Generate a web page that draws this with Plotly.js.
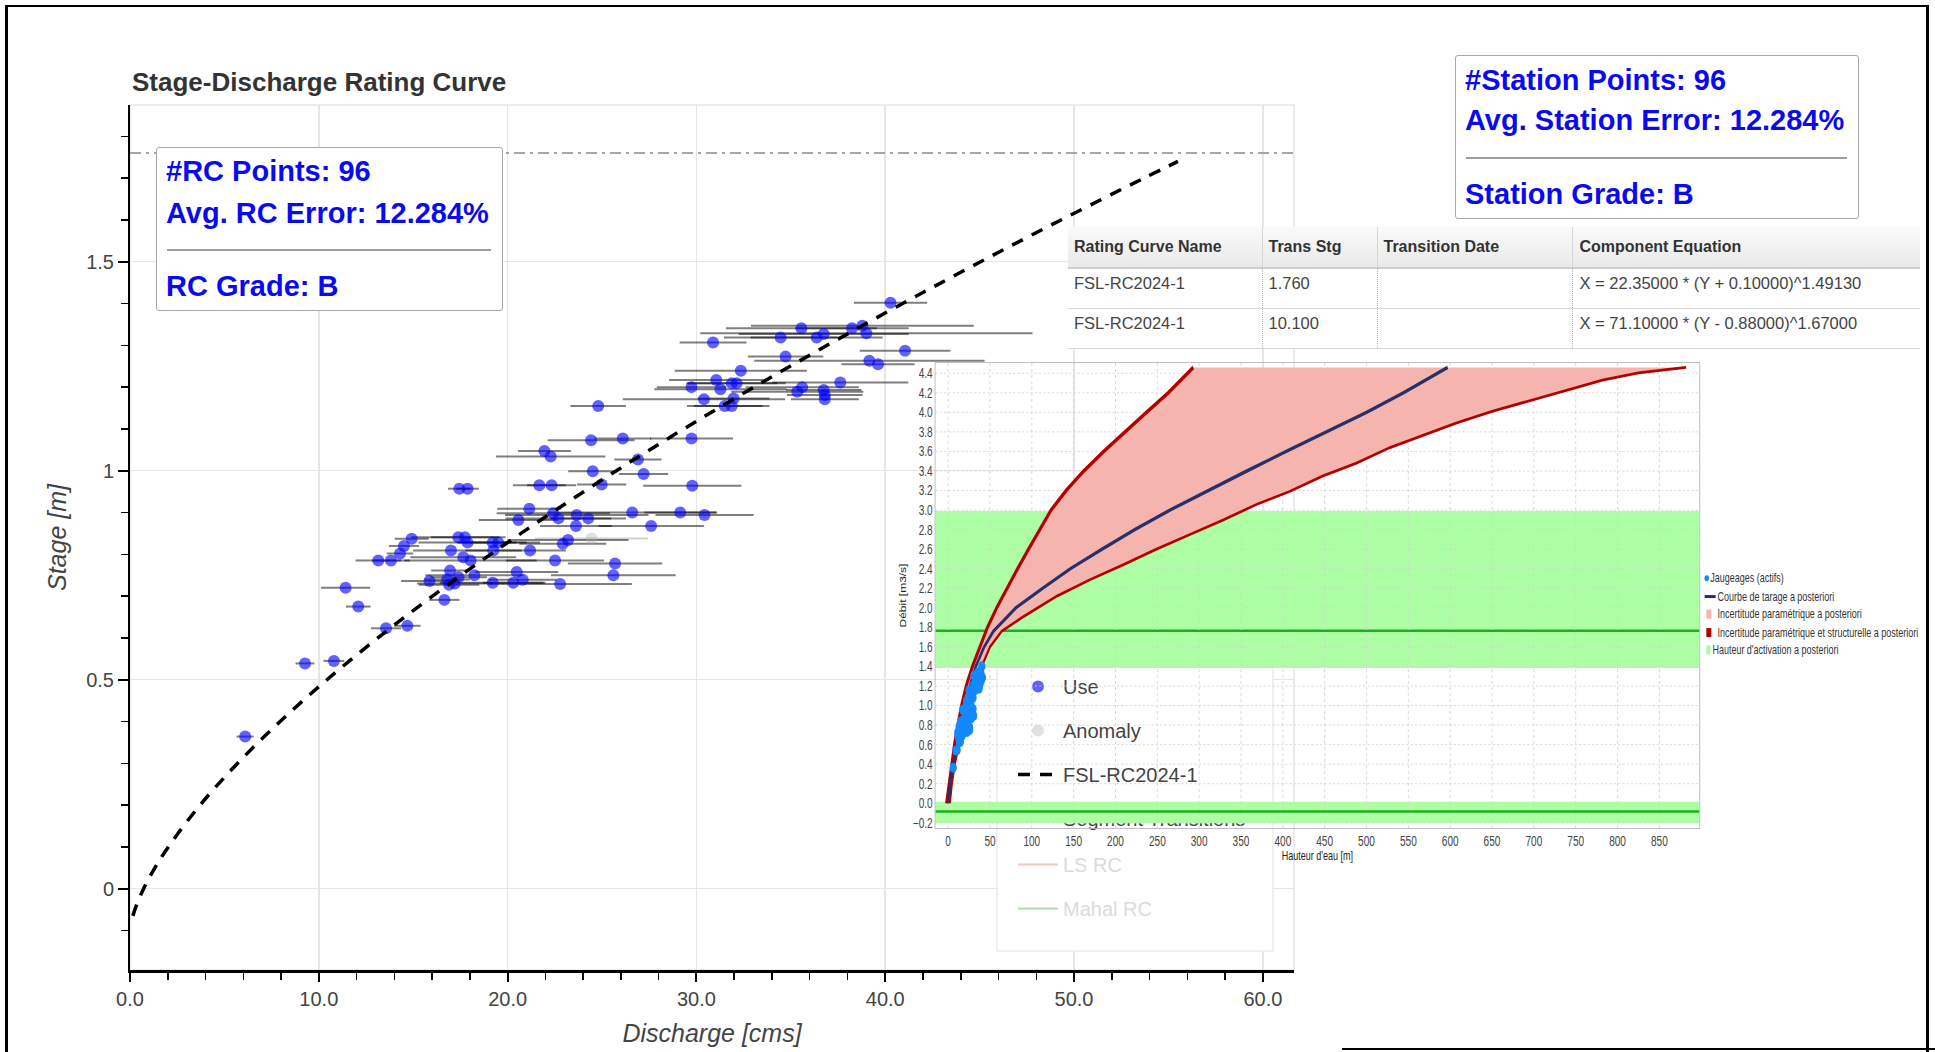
<!DOCTYPE html>
<html>
<head>
<meta charset="utf-8">
<script src="https://cdn.plot.ly/plotly-3.0.1.min.js"></script>
<style>
  html, body { margin: 0; padding: 0; background: #fff; }
  #page { position: relative; width: 1935px; height: 1052px; overflow: hidden; background: #fff;
          font-family: "Liberation Sans", Arial, Helvetica, sans-serif; }
  #main { position: absolute; left: 0; top: 0; width: 1935px; height: 1052px; z-index: 1; }
  #inset { position: absolute; left: 880px; top: 0; width: 1466px; height: 1052px; z-index: 3;
           transform-origin: 0 0; }
  .statbox { position: absolute; background: #fff; border: 1.5px solid #a8a8a8; border-radius: 3px;
             box-sizing: border-box; z-index: 2; }
  .statline { position: absolute; left: 9px; font-weight: bold; color: #0a0af0; font-size: 29px;
              line-height: 34px; white-space: nowrap; }
  .sep { position: absolute; left: 10px; right: 11px; height: 0; border-top: 2px solid #9c9c9c; }
  #tblwrap { position: absolute; left: 1068px; top: 227px; width: 852px; background: #fff; z-index: 2; }
  #tbl { border-collapse: collapse; width: 852px; table-layout: fixed; font-size: 16.5px; color: #444; }
  #tbl th { height: 40px; text-align: left; font-weight: bold; font-size: 16px; color: #333;
            background: linear-gradient(#fafafa, #e9e9e9); border-bottom: 2px solid #cfcfcf;
            border-right: 1px solid #d6d6d6; padding: 0 0 0 6px; white-space: nowrap; }
  #tbl td { height: 29px; padding: 0 0 10px 6px; border-bottom: 1.5px solid #d8d8d8;
            border-right: 1px dotted #b5b5b5; white-space: nowrap; background: #fff; }
  #tbl th:last-child, #tbl td:last-child { border-right: none; padding-left: 7px; }
  .frame { position: absolute; background: #000; z-index: 10; }
</style>
</head>
<body>
<div id="page">
  <div id="main"></div>

  <div class="statbox" id="rcbox" style="left:156px; top:147px; width:347px; height:164px;"></div>
  <div id="tblwrap"></div>

  <div id="inset"></div>

  <div class="statbox" id="stbox" style="left:1455px; top:55px; width:404px; height:164px; z-index:4;"></div>

  <div class="frame" style="left:5px; top:5px; width:3px; height:1047px;"></div>
  <div class="frame" style="left:5px; top:5px; width:1923px; height:2px;"></div>
  <div class="frame" style="left:1926px; top:5px; width:3px; height:1047px;"></div>
  <div class="frame" style="left:1342px; top:1048px; width:593px; height:2px;"></div>
</div>

<script>
// ---------------- DATA ----------------
// Main chart: gaugings (discharge Q [cms], stage H [m], horizontal uncertainty)
const useQ = [6.1, 9.27, 10.8, 11.42, 12.09, 13.56, 14.69, 16.65, 13.15, 13.82,
  14.3, 14.51, 14.92, 15.86, 17.0, 17.39, 17.74, 17.88, 17.44, 17.88,
  16.95, 16.9, 17.2, 17.65, 18.04, 18.24, 19.21, 19.51, 19.24, 19.21,
  20.3, 20.48, 20.8, 21.19, 20.57, 21.15, 22.51, 22.78, 22.92, 23.2,
  22.42, 22.69, 23.66, 23.62, 24.27, 25.69, 25.6, 21.68, 22.33, 24.98,
  24.51, 21.95, 22.28, 24.42, 26.1, 24.8, 26.6, 27.2, 26.9, 27.6,
  29.14, 30.43, 29.78, 29.74, 29.74, 30.4, 31.05, 31.27, 31.5, 31.87,
  31.97, 31.87, 32.13, 32.35, 30.88, 34.46, 34.72, 35.56, 36.37, 36.74,
  38.24, 38.79, 39.0, 40.28, 41.05, 39.16, 39.62, 37.62, 35.6, 35.34,
  36.74, 36.8, 36.8, 16.8, 17.4];
const useH = [0.364, 0.539, 0.545, 0.72, 0.675, 0.623, 0.629, 0.691, 0.785, 0.785,
  0.802, 0.82, 0.837, 0.736, 0.809, 0.841, 0.841, 0.828, 0.957, 0.957,
  0.761, 0.727, 0.73, 0.793, 0.785, 0.75, 0.828, 0.828, 0.809, 0.732,
  0.732, 0.758, 0.739, 0.809, 0.882, 0.909, 0.785, 0.729, 0.825, 0.834,
  0.898, 0.886, 0.894, 0.868, 0.886, 0.778, 0.75, 0.965, 0.965, 0.967,
  0.999, 1.047, 1.034, 1.073, 1.077, 1.155, 0.9, 0.992, 1.027, 0.868,
  0.9, 0.894, 0.964, 1.077, 1.2, 1.171, 1.217, 1.195, 1.155, 1.155,
  1.173, 1.209, 1.209, 1.239, 1.307, 1.319, 1.273, 1.341, 1.319, 1.327,
  1.341, 1.347, 1.329, 1.402, 1.287, 1.263, 1.255, 1.211, 1.2, 1.189,
  1.193, 1.181, 1.171, 0.74, 0.745];
const useErr = [0.45, 0.5, 0.55, 1.3, 0.65, 0.8, 0.7, 0.8, 1.2, 1.0,
  0.7, 0.8, 0.9, 1.5, 2.0, 2.5, 1.8, 2.6, 0.6, 0.6,
  1.0, 1.6, 2.0, 2.8, 3.5, 2.6, 1.8, 2.2, 1.5, 2.8,
  1.6, 2.2, 1.8, 1.9, 2.1, 1.7, 2.6, 3.8, 2.3, 3.2,
  3.0, 2.8, 3.8, 1.9, 2.0, 2.5, 3.3, 1.4, 1.3, 1.3,
  1.3, 1.4, 2.9, 2.3, 1.5, 1.47, 4.5, 1.3, 1.25, 2.8,
  1.9, 2.6, 2.6, 2.2, 1.84, 4.3, 2.5, 3.5, 2.0, 2.0,
  1.9, 2.4, 2.6, 3.5, 1.77, 3.0, 2.0, 4.0, 3.5, 4.5,
  3.0, 5.9, 8.8, 1.94, 2.4, 6.1, 1.94, 3.6, 3.0, 3.5,
  2.0, 2.0, 1.8, 1.2, 1.5];
const anomalyQ = [24.45];
const anomalyH = [0.838];
const anomalyErr = [3.0];

// Rating curve FSL-RC2024-1 as drawn (dashed)
const curveH = [-0.065, -0.04, 0, 0.05, 0.1, 0.2, 0.3, 0.4, 0.5, 0.6, 0.7, 0.8, 0.9, 1.0, 1.1, 1.2, 1.3, 1.4, 1.5, 1.6, 1.7, 1.74];
const curveQ = [0.15, 0.34, 0.72, 1.32, 2.03, 3.71, 5.70, 7.95, 10.43, 13.13, 16.02, 19.10, 22.35, 25.76, 29.33, 33.05, 36.92, 40.92, 45.05, 49.31, 53.70, 55.5];

// Table
const tableHeaders = ["Rating Curve Name", "Trans Stg", "Transition Date", "Component Equation"];
const rcNames = ["FSL-RC2024-1", "FSL-RC2024-1"];
const transStg = ["1.760", "10.100"];
const transDates = ["", ""];
const equations = ["X = 22.35000 * (Y + 0.10000)^1.49130", "X = 71.10000 * (Y - 0.88000)^1.67000"];

// Stats boxes
const rcStats = ["#RC Points: 96", "Avg. RC Error: 12.284%", "RC Grade: B"];
const stationStats = ["#Station Points: 96", "Avg. Station Error: 12.284%", "Station Grade: B"];

// Legends
const mainLegendNames = ["Use", "Anomaly", "FSL-RC2024-1", "Segment Transitions", "LS RC", "Mahal RC"];
const insetLegendNames = ["Jaugeages (actifs)", "Courbe de tarage a posteriori",
  "Incertitude paramétrique a posteriori", "Incertitude paramétrique et structurelle a posteriori",
  "Hauteur d'activation a posteriori"];

// Inset (BaRatin-like) chart, x = discharge-like axis, y = stage-like axis
const courbeH = [0, 0.2, 0.4, 0.6, 0.8, 1.0, 1.2, 1.4, 1.6, 1.76, 2.0, 2.2, 2.4, 2.6, 2.8, 3.0, 3.2, 3.4, 3.6, 3.8, 4.0, 4.2, 4.46];
const courbeQ = [0, 2.5, 6, 10, 14.5, 20, 26, 33, 43, 54, 81, 113, 146, 184, 223, 265, 310, 357, 404, 451, 500, 544, 597];
const bandLeftH = [0, 0.2, 0.4, 0.6, 0.8, 1.0, 1.2, 1.4, 1.6, 1.8, 2.0, 2.2, 2.4, 2.6, 2.8, 3.0, 3.2, 3.4, 3.6, 3.8, 4.0, 4.2, 4.46];
const bandLeftQ = [-2, 1, 4, 7.5, 11.5, 16, 21.5, 29, 38, 47, 58, 70, 83, 96, 109, 123, 141, 162, 186, 211, 237, 263, 293];
const bandRightH = [0, 0.2, 0.4, 0.6, 0.8, 1.0, 1.2, 1.4, 1.6, 1.76, 1.91, 2.12, 2.29, 2.44, 2.6, 2.75, 2.9, 3.06, 3.19, 3.35, 3.48, 3.64, 3.77, 3.89, 4.01, 4.11, 4.22, 4.33, 4.405, 4.46];
const bandRightQ = [2, 4.5, 8, 12.5, 17.5, 23, 30, 40, 50, 64, 90, 130, 170, 209, 249, 289, 329, 369, 408, 448, 488, 528, 568, 607, 650, 692, 738, 782, 825, 882];
const activationH = [1.765, -0.085];
const activationLow = [1.385, -0.205];
const activationHigh = [2.99, 0.015];

// ---------------- HTML parts ----------------
const FONT = '"Liberation Sans", Arial, Helvetica, sans-serif';

function fillStatBox(id, lines, centers, sepY) {
  const box = document.getElementById(id);
  lines.forEach((t, i) => {
    const d = document.createElement('div');
    d.className = 'statline';
    d.textContent = t;
    d.style.top = (centers[i] - 17) + 'px';
    box.appendChild(d);
  });
  const s = document.createElement('div');
  s.className = 'sep';
  s.style.top = sepY + 'px';
  box.appendChild(s);
}
fillStatBox('rcbox', rcStats, [22.5, 64.5, 137.5], 100.5);
fillStatBox('stbox', stationStats, [23.5, 63.5, 137.5], 100.5);

(function buildTable() {
  const widths = [194, 115, 195, 348];
  let html = '<table id="tbl"><colgroup>' + widths.map(w => '<col style="width:' + w + 'px">').join('') + '</colgroup><tr>';
  html += tableHeaders.map(h => '<th>' + h + '</th>').join('') + '</tr>';
  for (let i = 0; i < rcNames.length; i++) {
    html += '<tr><td>' + rcNames[i] + '</td><td>' + transStg[i] + '</td><td>' + transDates[i] + '</td><td>' + equations[i] + '</td></tr>';
  }
  html += '</table>';
  document.getElementById('tblwrap').innerHTML = html;
})();

// ---------------- MAIN PLOT ----------------
const xr = [0, 61.65];
const yr = [-0.1945, 1.875];
const segStage = parseFloat(transStg[0]);
const PL = 130, PR = 1294, PT = 105, PB = 970;
const mpx = sx => (sx - PL) / (PR - PL);
const mpy = sy => (PB - sy) / (PB - PT);

const mainTraces = [
  { type: 'scatter', mode: 'markers', name: mainLegendNames[0], x: useQ, y: useH,
    error_x: { type: 'data', array: useErr, color: 'rgba(0,0,0,0.5)', thickness: 2, width: 0 },
    marker: { size: 12, color: 'rgba(0,0,255,0.62)', line: { width: 0 } },
    legend: 'legend', legendgroup: 'g1' },
  { type: 'scatter', mode: 'markers', name: mainLegendNames[1], x: anomalyQ, y: anomalyH,
    error_x: { type: 'data', array: anomalyErr, color: 'rgba(0,0,0,0.18)', thickness: 2, width: 0 },
    marker: { size: 12, color: 'rgba(170,170,170,0.35)', line: { width: 0 } },
    legend: 'legend', legendgroup: 'g2' },
  { type: 'scatter', mode: 'lines', name: mainLegendNames[2], x: curveQ, y: curveH,
    line: { color: '#000', width: 3.5, dash: '12px,10px', shape: 'spline' },
    legend: 'legend', legendgroup: 'g3' },
  { type: 'scatter', mode: 'lines', name: mainLegendNames[3], x: xr, y: [segStage, segStage],
    line: { color: '#a6a6a6', width: 2, dash: '11px,5px,3px,5px' },
    legend: 'legend', legendgroup: 'g4' },
  { type: 'scatter', mode: 'lines', name: mainLegendNames[4], x: curveQ, y: curveH, visible: 'legendonly',
    line: { color: '#f08a8a', width: 2 }, legend: 'legend2', legendgroup: 'g5' },
  { type: 'scatter', mode: 'lines', name: mainLegendNames[5], x: curveQ, y: curveH, visible: 'legendonly',
    line: { color: '#5cb85c', width: 2 }, legend: 'legend2', legendgroup: 'g6' }
];

const axisCommon = {
  showgrid: true, gridcolor: '#e6e6e6', gridwidth: 1.5, zeroline: false,
  showline: true, linecolor: '#000', ticks: 'outside', tickcolor: '#000', tickwidth: 2,
  tickfont: { family: FONT, size: 20, color: '#444' }, fixedrange: true
};

const mainLayout = {
  width: 1935, height: 1052,
  margin: { l: PL, r: 1935 - PR, t: PT, b: 1052 - PB, pad: 0, autoexpand: false },
  paper_bgcolor: 'rgba(0,0,0,0)', plot_bgcolor: 'rgba(0,0,0,0)',
  font: { family: FONT },
  title: { text: '<b>Stage-Discharge Rating Curve</b>', font: { family: FONT, size: 26, color: '#333' },
           xref: 'container', yref: 'container', x: 132 / 1935, xanchor: 'left', y: 1 - 82 / 1052, yanchor: 'middle' },
  xaxis: Object.assign({}, axisCommon, {
    range: xr, tick0: 0, dtick: 10, tickformat: '.1f', linewidth: 2.5, ticklen: 9,
    minor: { dtick: 2, ticks: 'outside', ticklen: 7, tickwidth: 1.5, tickcolor: '#000', showgrid: false },
    title: { text: '<i>Discharge [cms]</i>', font: { family: FONT, size: 25, color: '#444' }, standoff: 16 }
  }),
  yaxis: Object.assign({}, axisCommon, {
    range: yr, tick0: 0, dtick: 0.5, linewidth: 2, ticklen: 10,
    minor: { dtick: 0.1, ticks: 'outside', ticklen: 7, tickwidth: 1.5, tickcolor: '#000', showgrid: false },
    title: { text: '<i>Stage [m]</i>', font: { family: FONT, size: 25, color: '#444' }, standoff: 12 }
  }),
  showlegend: true,
  legend: { xref: 'container', yref: 'container', x: 1013 / 1935, xanchor: 'left', y: 1 - 667 / 1052, yanchor: 'top',
            bgcolor: 'rgba(0,0,0,0)', borderwidth: 0, font: { family: FONT, size: 20, color: '#444' },
            itemwidth: 40, tracegroupgap: 15, traceorder: 'grouped' },
  legend2: { xref: 'container', yref: 'container', x: 1013 / 1935, xanchor: 'left', y: 1 - 845 / 1052, yanchor: 'top',
             bgcolor: 'rgba(0,0,0,0)', borderwidth: 0, font: { family: FONT, size: 20, color: '#b8b8b8' },
             itemwidth: 40, tracegroupgap: 15, traceorder: 'grouped' },
  shapes: [
    { type: 'rect', xref: 'paper', yref: 'paper', x0: 0, x1: 1, y0: 0, y1: 1,
      line: { color: '#e6e6e6', width: 1.5 }, fillcolor: 'rgba(0,0,0,0)', layer: 'below' },
    { type: 'rect', xref: 'paper', yref: 'paper', x0: mpx(997), x1: mpx(1273), y0: mpy(951), y1: mpy(650),
      line: { color: '#ececec', width: 1.5 }, fillcolor: '#ffffff', layer: 'above' }
  ]
};

Plotly.newPlot('main', mainTraces, mainLayout, { displayModeBar: false, staticPlot: true });

// ---------------- INSET PLOT ----------------
const S = 0.72, IL = 880, IW = 1466, IH = 1052;
const toLocal = sx => (sx - IL) / S;
const iml = toLocal(935.3), imr = IW - toLocal(1699.7), imt = 363.3, imb = IH - 828;
const ipw = IW - iml - imr, iph = IH - imt - imb;
const ipx = sx => (toLocal(sx) - iml) / ipw;
const ipy = sy => (IH - imb - sy) / iph;

const insetColors = { pts: '#1488ff', navy: '#27306b', pink: '#f6b4ae', red: '#b30000', green: '#adffa3', gline: '#1faf1f' };

const insetTraces = [
  { type: 'scatter', mode: 'lines', x: bandLeftQ.concat(bandRightQ.slice().reverse()),
    y: bandLeftH.concat(bandRightH.slice().reverse()), fill: 'toself', fillcolor: insetColors.pink,
    line: { width: 0 }, hoverinfo: 'skip', showlegend: false },
  { type: 'scatter', mode: 'lines', x: bandLeftQ, y: bandLeftH,
    line: { color: insetColors.red, width: 4 }, showlegend: false },
  { type: 'scatter', mode: 'lines', x: bandRightQ, y: bandRightH,
    line: { color: insetColors.red, width: 2.8 }, showlegend: false },
  { type: 'scatter', mode: 'lines', x: courbeQ, y: courbeH, line: { color: insetColors.navy, width: 3.5 }, showlegend: false },
  { type: 'scatter', mode: 'markers', x: useQ, y: useH, marker: { size: 10, color: insetColors.pts, line: { width: 0 } }, showlegend: false }
];

const insetShapes = [];
for (let i = 0; i < activationH.length; i++) {
  insetShapes.push({ type: 'rect', xref: 'paper', yref: 'y', x0: 0, x1: 1, y0: activationLow[i], y1: activationHigh[i],
                     fillcolor: insetColors.green, line: { width: 0 }, layer: 'below' });
  insetShapes.push({ type: 'line', xref: 'paper', yref: 'y', x0: 0, x1: 1, y0: activationH[i], y1: activationH[i],
                     line: { color: insetColors.gline, width: 2.5 }, layer: 'below' });
}
// inset legend symbols (screen px -> paper)
const legY = [578.3, 596.7, 614.3, 632.7, 650];
const legTextX = [1710, 1717, 1717, 1717, 1712];
insetShapes.push({ type: 'circle', xref: 'paper', yref: 'paper', x0: ipx(1704.8), x1: ipx(1709.3), y0: ipy(legY[0] + 3), y1: ipy(legY[0] - 3),
                   fillcolor: insetColors.pts, line: { width: 0 } });
insetShapes.push({ type: 'rect', xref: 'paper', yref: 'paper', x0: ipx(1705), x1: ipx(1716), y0: ipy(legY[1] + 1.5), y1: ipy(legY[1] - 1.5),
                   fillcolor: insetColors.navy, line: { width: 0 } });
insetShapes.push({ type: 'rect', xref: 'paper', yref: 'paper', x0: ipx(1706.7), x1: ipx(1711.7), y0: ipy(legY[2] + 4.5), y1: ipy(legY[2] - 4.5),
                   fillcolor: insetColors.pink, line: { width: 0 } });
insetShapes.push({ type: 'rect', xref: 'paper', yref: 'paper', x0: ipx(1706.7), x1: ipx(1711.7), y0: ipy(legY[3] + 4.5), y1: ipy(legY[3] - 4.5),
                   fillcolor: insetColors.red, line: { width: 0 } });
insetShapes.push({ type: 'rect', xref: 'paper', yref: 'paper', x0: ipx(1706.7), x1: ipx(1710.7), y0: ipy(legY[4] + 4.5), y1: ipy(legY[4] - 4.5),
                   fillcolor: '#a4ff9a', line: { width: 0 } });

const insetAnnotations = insetLegendNames.map((t, i) => ({
  text: t, xref: 'paper', yref: 'paper', x: ipx(legTextX[i]), y: ipy(legY[i]), xanchor: 'left', yanchor: 'middle',
  showarrow: false, font: { family: FONT, size: 12.5, color: '#333' }, borderpad: 0
}));

const insetAxis = {
  showgrid: true, gridcolor: '#d4d4d4', gridwidth: 1, griddash: 'dot', zeroline: false,
  showline: true, mirror: true, linecolor: '#b4b4b4', linewidth: 1, ticks: '',
  tickfont: { family: FONT, size: 14, color: '#444' }, fixedrange: true
};

const insetLayout = {
  width: IW, height: IH,
  margin: { l: iml, r: imr, t: imt, b: imb, pad: 0, autoexpand: false },
  paper_bgcolor: 'rgba(0,0,0,0)', plot_bgcolor: 'rgba(0,0,0,0)',
  font: { family: FONT },
  showlegend: false,
  xaxis: Object.assign({}, insetAxis, {
    range: [-15.2, 897.8], tick0: 0, dtick: 50,
    title: { text: "Hauteur d'eau [m]", font: { family: FONT, size: 12.5, color: '#222' }, standoff: 3 }
  }),
  yaxis: Object.assign({}, insetAxis, {
    range: [-0.253, 4.505], tick0: 0, dtick: 0.2, tickformat: '.1f',
    title: { text: 'Débit [m3/s]', font: { family: FONT, size: 12, color: '#222' }, standoff: 6 }
  }),
  shapes: insetShapes,
  annotations: insetAnnotations
};

Plotly.newPlot('inset', insetTraces, insetLayout, { displayModeBar: false, staticPlot: true }).then(() => {
  document.getElementById('inset').style.transform = 'scaleX(' + S + ')';
});
</script>
</body>
</html>
